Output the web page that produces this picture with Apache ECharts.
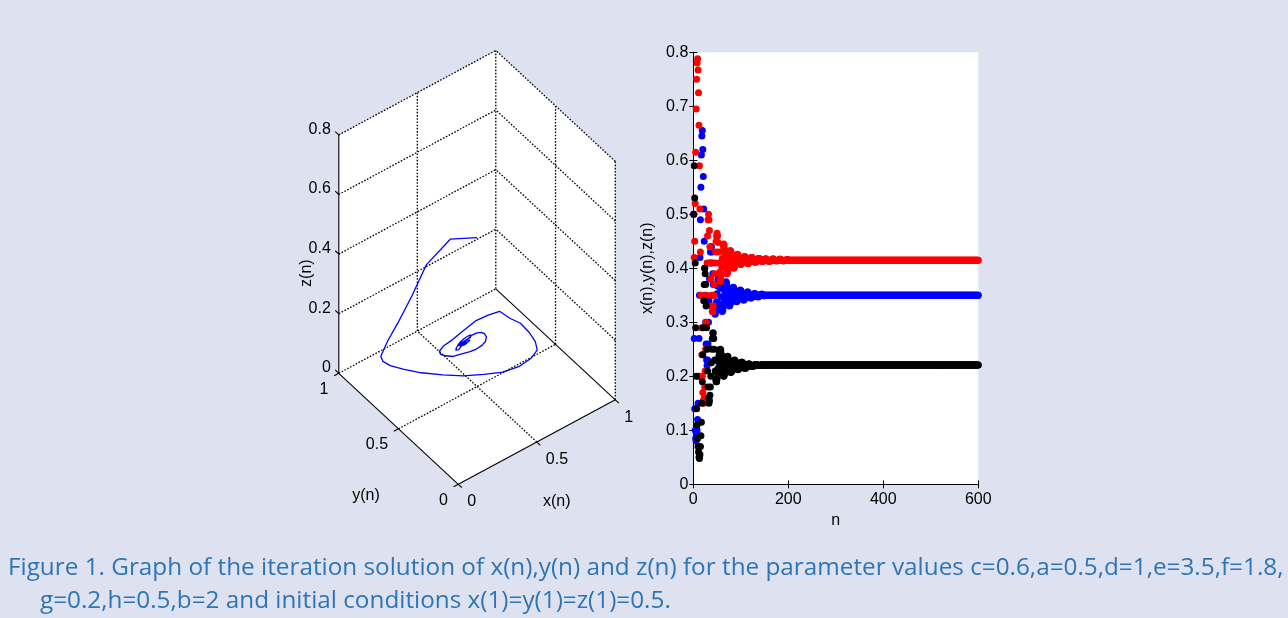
<!DOCTYPE html>
<html><head><meta charset="utf-8">
<script src="https://cdn.jsdelivr.net/npm/echarts@6/dist/echarts.min.js"></script>
<style>html,body{margin:0;padding:0;background:#dee2f0;}#c{width:1288px;height:618px;}</style>
</head><body><div id="c"></div>
<script>
// ---------- data ----------
// x(n): blue, y(n): red, z(n): black ; n = 1..600
const xHead = [
.50,.27,.14,.10,.085,.08,.09,.10,.12,.15,
.20,.27,.35,.42,.49,.55,.61,.645,.655,.62,
.57,.51,.45,.40,.35,.30,.26,.23,.22,.23,
.26,.30,.34,.38,.41,.43,.44,.44,.43,.41,
.39,.37,.35,.33,.32,.315,.32,.326,.338,.353,
.367,.379,.387,.39,.387,.377,.363,.347,.333,.324,
.32,.322,.328,.337,.348,.358,.367,.373,.375,.373,
.366,.358,.347,.338,.332,.33,.331,.335,.341,.348,
.354,.36,.364,.365,.364,.36,.355,.348,.342,.339,
.338,.339,.341,.345,.349,.353,.357,.359,.36,.359,
.356,.353,.348,.345,.342,.341,.342,.343,.346,.349,
.351,.354,.355,.356,.356,.354,.352,.349,.347,.346,
.345,.345,.346,.348,.349,.351,.352,.353,.353,.353,
.352,.351,.35,.348,.348,.347,.348,.348,.349,.35,
.351,.351,.352,.352,.352,.351,.35,.349,.349,.35];
const xTail = [
.35,.35,.35,.35,.35,.35,.35,.35,.35,.35,.35,.35,.35,.35,.35,.35,.35,.35,.35,.35,.35,.35,.35,.35,.35,.35,.35,.35,.35,.35,
.35,.35,.35,.35,.35,.35,.35,.35,.35,.35,.35,.35,.35,.35,.35,.35,.35,.35,.35,.35,.35,.35,.35,.35,.35,.35,.35,.35,.35,.35,
.35,.35,.35,.35,.35,.35,.35,.35,.35,.35,.35,.35,.35,.35,.35,.35,.35,.35,.35,.35,.35,.35,.35,.35,.35,.35,.35,.35,.35,.35,
.35,.35,.35,.35,.35,.35,.35,.35,.35,.35,.35,.35,.35,.35,.35,.35,.35,.35,.35,.35,.35,.35,.35,.35,.35,.35,.35,.35,.35,.35,
.35,.35,.35,.35,.35,.35,.35,.35,.35,.35,.35,.35,.35,.35,.35,.35,.35,.35,.35,.35,.35,.35,.35,.35,.35,.35,.35,.35,.35,.35,
.35,.35,.35,.35,.35,.35,.35,.35,.35,.35,.35,.35,.35,.35,.35,.35,.35,.35,.35,.35,.35,.35,.35,.35,.35,.35,.35,.35,.35,.35,
.35,.35,.35,.35,.35,.35,.35,.35,.35,.35,.35,.35,.35,.35,.35,.35,.35,.35,.35,.35,.35,.35,.35,.35,.35,.35,.35,.35,.35,.35,
.35,.35,.35,.35,.35,.35,.35,.35,.35,.35,.35,.35,.35,.35,.35,.35,.35,.35,.35,.35,.35,.35,.35,.35,.35,.35,.35,.35,.35,.35,
.35,.35,.35,.35,.35,.35,.35,.35,.35,.35,.35,.35,.35,.35,.35,.35,.35,.35,.35,.35,.35,.35,.35,.35,.35,.35,.35,.35,.35,.35,
.35,.35,.35,.35,.35,.35,.35,.35,.35,.35,.35,.35,.35,.35,.35,.35,.35,.35,.35,.35,.35,.35,.35,.35,.35,.35,.35,.35,.35,.35,
.35,.35,.35,.35,.35,.35,.35,.35,.35,.35,.35,.35,.35,.35,.35,.35,.35,.35,.35,.35,.35,.35,.35,.35,.35,.35,.35,.35,.35,.35,
.35,.35,.35,.35,.35,.35,.35,.35,.35,.35,.35,.35,.35,.35,.35,.35,.35,.35,.35,.35,.35,.35,.35,.35,.35,.35,.35,.35,.35,.35,
.35,.35,.35,.35,.35,.35,.35,.35,.35,.35,.35,.35,.35,.35,.35,.35,.35,.35,.35,.35,.35,.35,.35,.35,.35,.35,.35,.35,.35,.35,
.35,.35,.35,.35,.35,.35,.35,.35,.35,.35,.35,.35,.35,.35,.35,.35,.35,.35,.35,.35,.35,.35,.35,.35,.35,.35,.35,.35,.35,.35,
.35,.35,.35,.35,.35,.35,.35,.35,.35,.35,.35,.35,.35,.35,.35,.35,.35,.35,.35,.35,.35,.35,.35,.35,.35,.35,.35,.35,.35,.35];
const yHead = [
.50,.42,.45,.52,.615,.695,.75,.78,.788,.767,
.725,.665,.59,.51,.43,.35,.29,.24,.20,.17,
.155,.15,.16,.18,.21,.25,.30,.35,.41,.46,
.49,.50,.49,.47,.44,.41,.38,.35,.33,.32,
.32,.33,.35,.37,.39,.41,.43,.45,.46,.465,
.46,.448,.43,.41,.392,.379,.375,.379,.388,.402,
.418,.432,.442,.445,.442,.435,.424,.411,.40,.392,
.39,.392,.398,.407,.416,.425,.431,.433,.431,.427,
.42,.413,.406,.402,.40,.401,.404,.408,.413,.418,
.422,.425,.426,.425,.422,.419,.414,.41,.408,.407,
.408,.409,.412,.415,.417,.42,.421,.422,.421,.42,
.417,.414,.411,.41,.409,.409,.411,.412,.415,.417,
.418,.42,.42,.42,.418,.417,.415,.413,.412,.411,
.411,.412,.413,.415,.416,.417,.418,.418,.418,.417,
.416,.415,.414,.413,.413,.413,.413,.414,.415,.416,
.417,.417,.417,.417,.416,.415,.414,.414,.413,.413,
.413,.414,.414,.415,.416,.416,.417,.417,.417,.416,
.415,.415,.414,.414,.414,.414,.414,.415,.415,.416,
.416,.416,.417,.416,.416,.415,.415,.414,.414,.414,
.414,.414,.415,.415,.415,.416,.416,.416,.416,.415];
const yTail = [
.415,.415,.415,.415,.415,.415,.415,.415,.415,.415,.415,.415,.415,.415,.415,.415,.415,.415,.415,.415,.415,.415,.415,.415,.415,.415,.415,.415,.415,.415,
.415,.415,.415,.415,.415,.415,.415,.415,.415,.415,.415,.415,.415,.415,.415,.415,.415,.415,.415,.415,.415,.415,.415,.415,.415,.415,.415,.415,.415,.415,
.415,.415,.415,.415,.415,.415,.415,.415,.415,.415,.415,.415,.415,.415,.415,.415,.415,.415,.415,.415,.415,.415,.415,.415,.415,.415,.415,.415,.415,.415,
.415,.415,.415,.415,.415,.415,.415,.415,.415,.415,.415,.415,.415,.415,.415,.415,.415,.415,.415,.415,.415,.415,.415,.415,.415,.415,.415,.415,.415,.415,
.415,.415,.415,.415,.415,.415,.415,.415,.415,.415,.415,.415,.415,.415,.415,.415,.415,.415,.415,.415,.415,.415,.415,.415,.415,.415,.415,.415,.415,.415,
.415,.415,.415,.415,.415,.415,.415,.415,.415,.415,.415,.415,.415,.415,.415,.415,.415,.415,.415,.415,.415,.415,.415,.415,.415,.415,.415,.415,.415,.415,
.415,.415,.415,.415,.415,.415,.415,.415,.415,.415,.415,.415,.415,.415,.415,.415,.415,.415,.415,.415,.415,.415,.415,.415,.415,.415,.415,.415,.415,.415,
.415,.415,.415,.415,.415,.415,.415,.415,.415,.415,.415,.415,.415,.415,.415,.415,.415,.415,.415,.415,.415,.415,.415,.415,.415,.415,.415,.415,.415,.415,
.415,.415,.415,.415,.415,.415,.415,.415,.415,.415,.415,.415,.415,.415,.415,.415,.415,.415,.415,.415,.415,.415,.415,.415,.415,.415,.415,.415,.415,.415,
.415,.415,.415,.415,.415,.415,.415,.415,.415,.415,.415,.415,.415,.415,.415,.415,.415,.415,.415,.415,.415,.415,.415,.415,.415,.415,.415,.415,.415,.415,
.415,.415,.415,.415,.415,.415,.415,.415,.415,.415,.415,.415,.415,.415,.415,.415,.415,.415,.415,.415,.415,.415,.415,.415,.415,.415,.415,.415,.415,.415,
.415,.415,.415,.415,.415,.415,.415,.415,.415,.415,.415,.415,.415,.415,.415,.415,.415,.415,.415,.415,.415,.415,.415,.415,.415,.415,.415,.415,.415,.415,
.415,.415,.415,.415,.415,.415,.415,.415,.415,.415,.415,.415,.415,.415,.415,.415,.415,.415,.415,.415,.415,.415,.415,.415,.415,.415,.415,.415,.415,.415,
.415,.415,.415,.415,.415,.415,.415,.415,.415,.415,.415,.415,.415,.415,.415,.415,.415,.415,.415,.415];
const zHead = [
.50,.59,.53,.41,.29,.20,.14,.11,.085,.07,
.06,.05,.048,.055,.07,.09,.115,.15,.19,.24,
.29,.34,.37,.40,.39,.37,.33,.29,.25,.21,
.18,.16,.15,.155,.165,.18,.20,.225,.25,.27,
.28,.28,.27,.25,.23,.21,.195,.19,.19,.195,
.205,.215,.227,.238,.245,.249,.25,.248,.241,.23,
.218,.207,.201,.20,.201,.205,.211,.218,.226,.232,
.236,.237,.236,.231,.225,.217,.211,.208,.207,.208,
.21,.214,.218,.223,.227,.229,.23,.229,.227,.223,
.219,.215,.213,.212,.213,.214,.216,.219,.222,.224,
.226,.226,.226,.224,.222,.219,.217,.215,.215,.215,
.216,.217,.219,.221,.222,.223,.223,.223,.222,.221,
.22,.219,.218,.218,.218,.219,.219,.22,.221,.222,
.222,.222,.222,.221,.221,.22,.22,.22,.22,.22,
.221,.221,.221,.221,.221,.221,.221,.221,.221,.221];
const zTail = [
.221,.221,.221,.221,.221,.221,.221,.221,.221,.221,.221,.221,.221,.221,.221,.221,.221,.221,.221,.221,.221,.221,.221,.221,.221,.221,.221,.221,.221,.221,
.221,.221,.221,.221,.221,.221,.221,.221,.221,.221,.221,.221,.221,.221,.221,.221,.221,.221,.221,.221,.221,.221,.221,.221,.221,.221,.221,.221,.221,.221,
.221,.221,.221,.221,.221,.221,.221,.221,.221,.221,.221,.221,.221,.221,.221,.221,.221,.221,.221,.221,.221,.221,.221,.221,.221,.221,.221,.221,.221,.221,
.221,.221,.221,.221,.221,.221,.221,.221,.221,.221,.221,.221,.221,.221,.221,.221,.221,.221,.221,.221,.221,.221,.221,.221,.221,.221,.221,.221,.221,.221,
.221,.221,.221,.221,.221,.221,.221,.221,.221,.221,.221,.221,.221,.221,.221,.221,.221,.221,.221,.221,.221,.221,.221,.221,.221,.221,.221,.221,.221,.221,
.221,.221,.221,.221,.221,.221,.221,.221,.221,.221,.221,.221,.221,.221,.221,.221,.221,.221,.221,.221,.221,.221,.221,.221,.221,.221,.221,.221,.221,.221,
.221,.221,.221,.221,.221,.221,.221,.221,.221,.221,.221,.221,.221,.221,.221,.221,.221,.221,.221,.221,.221,.221,.221,.221,.221,.221,.221,.221,.221,.221,
.221,.221,.221,.221,.221,.221,.221,.221,.221,.221,.221,.221,.221,.221,.221,.221,.221,.221,.221,.221,.221,.221,.221,.221,.221,.221,.221,.221,.221,.221,
.221,.221,.221,.221,.221,.221,.221,.221,.221,.221,.221,.221,.221,.221,.221,.221,.221,.221,.221,.221,.221,.221,.221,.221,.221,.221,.221,.221,.221,.221,
.221,.221,.221,.221,.221,.221,.221,.221,.221,.221,.221,.221,.221,.221,.221,.221,.221,.221,.221,.221,.221,.221,.221,.221,.221,.221,.221,.221,.221,.221,
.221,.221,.221,.221,.221,.221,.221,.221,.221,.221,.221,.221,.221,.221,.221,.221,.221,.221,.221,.221,.221,.221,.221,.221,.221,.221,.221,.221,.221,.221,
.221,.221,.221,.221,.221,.221,.221,.221,.221,.221,.221,.221,.221,.221,.221,.221,.221,.221,.221,.221,.221,.221,.221,.221,.221,.221,.221,.221,.221,.221,
.221,.221,.221,.221,.221,.221,.221,.221,.221,.221,.221,.221,.221,.221,.221,.221,.221,.221,.221,.221,.221,.221,.221,.221,.221,.221,.221,.221,.221,.221,
.221,.221,.221,.221,.221,.221,.221,.221,.221,.221,.221,.221,.221,.221,.221,.221,.221,.221,.221,.221,.221,.221,.221,.221,.221,.221,.221,.221,.221,.221,
.221,.221,.221,.221,.221,.221,.221,.221,.221,.221,.221,.221,.221,.221,.221,.221,.221,.221,.221,.221,.221,.221,.221,.221,.221,.221,.221,.221,.221,.221];

// tick labels
const nTicks = [0, 200, 400, 600];
const valTicks = ['0','0.1','0.2','0.3','0.4','0.5','0.6','0.7','0.8'];
const xyTicks3d = [0, 0.5, 1];
const zTicks3d = [0, 0.2, 0.4, 0.6, 0.8];
const caption1 = 'Figure 1. Graph of the iteration solution of x(n),y(n) and z(n) for the parameter values c=0.6,a=0.5,d=1,e=3.5,f=1.8,';
const caption2 = 'g=0.2,h=0.5,b=2 and initial conditions x(1)=y(1)=z(1)=0.5.';

// ---------- build ----------
const xn = xHead.concat(xTail), yn = yHead.concat(yTail), zn = zHead.concat(zTail);

// 3D view (orthographic projection of the box)
const EX = [157, -84.5], EY = [-119.5, -111], EZ = [0, -298];
function proj(x, y, z) { return [EX[0]*x + EY[0]*y + EZ[0]*z, -(EX[1]*x + EY[1]*y + EZ[1]*z)]; }
const XR = [0, 1], YR = [0, 1], ZR = [0, 0.8];

const segs = [];
function seg(a, b, dotted) { segs.push([...proj(...a), ...proj(...b), dotted ? 1 : 0]); }
zTicks3d.forEach(z => {
  seg([XR[0], YR[1], z], [XR[1], YR[1], z], true);
  if (z > 0) seg([XR[1], YR[0], z], [XR[1], YR[1], z], true);
});
seg([0.5, YR[1], ZR[0]], [0.5, YR[1], ZR[1]], true);
seg([XR[1], YR[1], ZR[0]], [XR[1], YR[1], ZR[1]], true);
seg([XR[1], 0.5, ZR[0]], [XR[1], 0.5, ZR[1]], true);
seg([XR[1], YR[0], ZR[0]], [XR[1], YR[0], ZR[1]], true);
seg([0.5, YR[0], 0], [0.5, YR[1], 0], true);
seg([XR[0], 0.5, 0], [XR[1], 0.5, 0], true);
seg([0, 0, 0], [1, 0, 0], false);
seg([0, 0, 0], [0, 1, 0], false);
seg([0, 1, ZR[0]], [0, 1, ZR[1]], false);
seg([1, 0, 0], [1, 1, 0], false);
zTicks3d.forEach(z => seg([0, 1, z], [0, 1.03, z], false));
xyTicks3d.forEach(t => { seg([t, 0, 0], [t, -0.03, 0], false); seg([0, t, 0], [-0.03, t, 0], false); });

const hexagon = [[0,0,0],[1,0,0],[1,0,0.8],[1,1,0.8],[0,1,0.8],[0,1,0]].map(p => proj(...p));

// labels: [u, v, text, dx, dy, align, rotate]
const labels = [];
zTicks3d.forEach(z => labels.push([...proj(0, 1, z), String(z), -8, -5.5, 'right', 0]));
xyTicks3d.forEach(t => labels.push([...proj(t, 0, 0), String(t), 9, 17.5, 'left', 0]));
xyTicks3d.forEach(t => labels.push([...proj(0, t, 0), String(t), -10.5, 16, 'right', 0]));
labels.push([...proj(0, 1, 0.4), 'z(n)', -32, 19, 'center', 1]);
labels.push([...proj(0, 0.5, 0), 'y(n)', -32.5, 67, 'center', 0]);
labels.push([...proj(0.5, 0, 0), 'x(n)', 20, 60, 'center', 0]);

const curve = xn.map((v, i) => proj(v, yn[i], zn[i]));
const FAM = '"Liberation Sans", Arial, sans-serif';
const FONT = '16px ' + FAM;

// caption font size chosen so line 1 spans the page width like the reference
const capFam = '"Open Sans", "Noto Sans", sans-serif';
const mctx = document.createElement('canvas').getContext('2d');
mctx.font = '20px ' + capFam;
const capSize = Math.min(26, 20 * 1275 / mctx.measureText(caption1).width);
const capFont = capSize.toFixed(1) + 'px ' + capFam;

const chart = echarts.init(document.getElementById('c'), null, {renderer: 'canvas'});
const axisCommon = {
  axisLine: {lineStyle: {color: '#000', width: 1}},
  axisTick: {inside: true, length: 4, lineStyle: {color: '#000'}},
  splitLine: {show: false}
};
const labelStyle = {color: '#000', fontSize: 16, fontFamily: FAM};
chart.setOption({
  backgroundColor: '#dee2f0',
  animation: false,
  grid: [
    {left: 318.3, top: 24.3, width: 320, height: 500, show: false},
    {left: 693.3, top: 52.3, width: 285, height: 432, show: true, backgroundColor: '#fff', borderWidth: 0}
  ],
  xAxis: [
    {gridIndex: 0, type: 'value', min: -140, max: 180, show: false},
    Object.assign({gridIndex: 1, type: 'value', min: 0, max: 600, interval: 200, position: 'bottom',
      axisLabel: Object.assign({margin: 7}, labelStyle),
      name: 'n', nameLocation: 'middle', nameGap: 27, nameTextStyle: labelStyle}, axisCommon),
    Object.assign({gridIndex: 1, type: 'value', min: 0, max: 600, interval: 200, position: 'top',
      axisLabel: {show: false}}, axisCommon)
  ],
  yAxis: [
    {gridIndex: 0, type: 'value', min: -40, max: 460, show: false},
    Object.assign({gridIndex: 1, type: 'value', min: 0, max: 0.8, interval: 0.1, position: 'left',
      axisLabel: Object.assign({margin: 5, formatter: (v) => valTicks[Math.round(v * 10)]}, labelStyle),
      name: 'x(n),y(n),z(n)', nameLocation: 'middle', nameGap: 38, nameRotate: 90,
      nameTextStyle: labelStyle}, axisCommon),
    Object.assign({gridIndex: 1, type: 'value', min: 0, max: 0.8, interval: 0.1, position: 'right',
      axisLabel: {show: false}}, axisCommon)
  ],
  graphic: [
    {type: 'text', x: 8, y: 568, style: {text: caption1, font: capFont, fill: '#2e75b6', verticalAlign: 'middle'}},
    {type: 'text', x: 40, y: 601, style: {text: caption2, font: capFont, fill: '#2e75b6', verticalAlign: 'middle'}}
  ],
  series: [
    {type: 'custom', xAxisIndex: 0, yAxisIndex: 0, silent: true, clip: false, z: 1, data: [0],
      renderItem: (p, api) => ({type: 'polygon', shape: {points: hexagon.map(q => api.coord(q))}, style: {fill: '#fff'}})},
    {type: 'custom', xAxisIndex: 0, yAxisIndex: 0, silent: true, clip: false, z: 2, data: segs,
      encode: {x: [0, 2], y: [1, 3]},
      renderItem: (p, api) => {
        const a = api.coord([api.value(0), api.value(1)]), b = api.coord([api.value(2), api.value(3)]);
        const d = api.value(4) === 1;
        return {type: 'line', shape: {x1: a[0], y1: a[1], x2: b[0], y2: b[1]},
          style: {stroke: '#000', lineWidth: d ? 1.3 : 1.1, lineDash: d ? [1.6, 1.6] : null}};
      }},
    {type: 'line', xAxisIndex: 0, yAxisIndex: 0, data: curve, showSymbol: false, symbol: 'none', clip: false, z: 3,
      lineStyle: {color: '#0000ff', width: 1.3}},
    {type: 'custom', xAxisIndex: 0, yAxisIndex: 0, silent: true, clip: false, z: 4,
      data: labels.map(l => [l[0], l[1]]),
      renderItem: (p, api) => {
        const l = labels[p.dataIndex];
        const c = api.coord([l[0], l[1]]);
        return {type: 'text', x: c[0] + l[3], y: c[1] + l[4], rotation: l[6] ? Math.PI / 2 : 0,
          style: {text: l[2], font: FONT, fill: '#000', align: l[5], verticalAlign: 'middle'}};
      }},
    {type: 'scatter', xAxisIndex: 1, yAxisIndex: 1, symbolSize: 7, itemStyle: {color: '#0000ff', opacity: 1},
      data: xn.map((v, i) => [i + 1, v])},
    {type: 'scatter', xAxisIndex: 1, yAxisIndex: 1, symbolSize: 7, itemStyle: {color: '#ff0000', opacity: 1},
      data: yn.map((v, i) => [i + 1, v])},
    {type: 'scatter', xAxisIndex: 1, yAxisIndex: 1, symbolSize: 7, itemStyle: {color: '#000000', opacity: 1},
      data: zn.map((v, i) => [i + 1, v])}
  ]
});
</script></body></html>
